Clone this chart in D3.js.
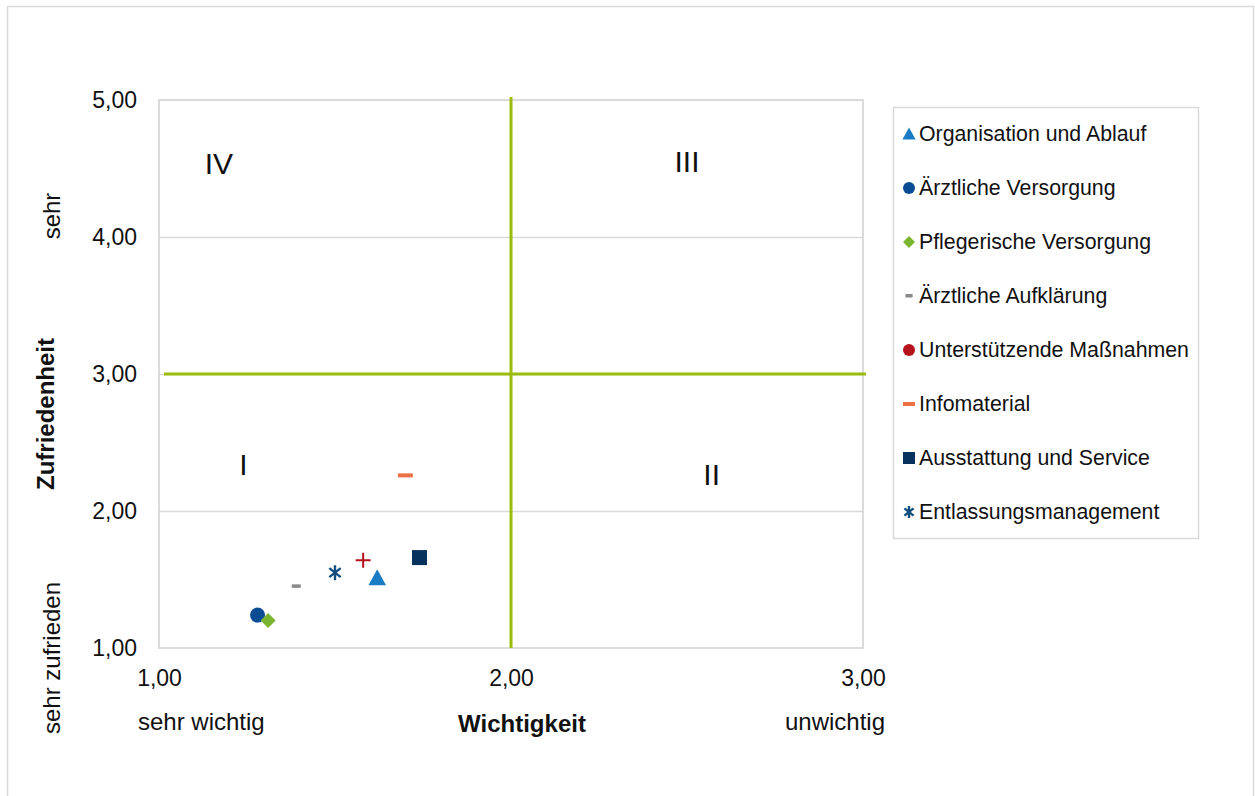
<!DOCTYPE html>
<html>
<head>
<meta charset="utf-8">
<script src="https://cdn.jsdelivr.net/npm/d3@7"></script>
<style>
  html, body { margin: 0; padding: 0; background: #fff; }
  svg { display: block; font-family: "Liberation Sans", Arial, sans-serif; }
</style>
</head>
<body>
<svg id="chart" width="1255" height="796"></svg>
<script>
// Portfolio: Wichtigkeit (x) vs. Zufriedenheit (y) per Bereich
const categories = [
  "Organisation und Ablauf",
  "Ärztliche Versorgung",
  "Pflegerische Versorgung",
  "Ärztliche Aufklärung",
  "Unterstützende Maßnahmen",
  "Infomaterial",
  "Ausstattung und Service",
  "Entlassungsmanagement"
];
const wichtigkeit   = [1.62, 1.28, 1.31, 1.39, 1.58, 1.70, 1.74, 1.50];
const zufriedenheit = [1.51, 1.24, 1.20, 1.45, 1.64, 2.26, 1.66, 1.55];
const colors = ["#1a7cc4", "#0a4c94", "#7ab52f", "#8a8a8a", "#b5121b", "#ee7045", "#07325e", "#124f80"];
const plotMarkers   = ["triangle", "circle", "diamond", "graydash", "plus", "dash", "square", "asterisk"];
const legendMarkers = ["triangle", "circle", "diamond", "graydash", "circle", "dash", "square", "asterisk"];

const xTicks = [1, 2, 3];
const yTicks = [1, 2, 3, 4, 5];
const xThreshold = 2;
const yThreshold = 3;
const quadrants = [
  { label: "IV",  x: 1.17, y: 4.52 },
  { label: "III", x: 2.50, y: 4.53 },
  { label: "I",   x: 1.24, y: 2.32 },
  { label: "II",  x: 2.57, y: 2.25 }
];

const svg = d3.select("#chart");
const fmt = v => d3.format(".2f")(v).replace(".", ",");

const x = d3.scaleLinear().domain([1, 3]).range([159, 863]);
const y = d3.scaleLinear().domain([1, 5]).range([648, 100]);

// outer frame
svg.append("rect").attr("x", 7.5).attr("y", 6.5).attr("width", 1246).attr("height", 800)
  .attr("fill", "#fff").attr("stroke", "#d9d9d9").attr("stroke-width", 1.5);

// gridlines
svg.append("g").selectAll("line").data(yTicks.slice(1, -1)).join("line")
  .attr("x1", x(1)).attr("x2", x(3))
  .attr("y1", d => Math.round(y(d)) + 0.5).attr("y2", d => Math.round(y(d)) + 0.5)
  .attr("stroke", "#d9d9d9").attr("stroke-width", 1.5);

// plot area border
svg.append("rect").attr("x", x(1)).attr("y", y(5)).attr("width", x(3) - x(1)).attr("height", y(1) - y(5))
  .attr("fill", "none").attr("stroke", "#d0d0d0").attr("stroke-width", 1.5);

// axes (tick labels only)
const xAxis = svg.append("g").attr("transform", `translate(0,${y(1)})`)
  .call(d3.axisBottom(x).tickValues(xTicks).tickFormat(fmt).tickSize(0).tickPadding(22));
xAxis.select(".domain").remove();
xAxis.selectAll("text").attr("font-size", 23).attr("fill", "#111").attr("font-family", "Liberation Sans, Arial, sans-serif");

const yAxis = svg.append("g").attr("transform", `translate(${x(1)},0)`)
  .call(d3.axisLeft(y).tickValues(yTicks).tickFormat(fmt).tickSize(0).tickPadding(22));
yAxis.select(".domain").remove();
yAxis.selectAll("text").attr("font-size", 23).attr("fill", "#111").attr("font-family", "Liberation Sans, Arial, sans-serif");

// threshold lines
svg.append("line").attr("x1", x(1) + 5).attr("x2", x(3) + 3).attr("y1", y(yThreshold)).attr("y2", y(yThreshold))
  .attr("stroke", "#9cbb0c").attr("stroke-width", 3);
svg.append("line").attr("x1", x(xThreshold)).attr("x2", x(xThreshold)).attr("y1", y(5) - 3).attr("y2", y(1))
  .attr("stroke", "#9cbb0c").attr("stroke-width", 3);

// quadrant labels
svg.append("g").selectAll("text").data(quadrants).join("text")
  .attr("x", d => x(d.x)).attr("y", d => y(d.y))
  .attr("text-anchor", "middle").attr("dominant-baseline", "middle")
  .attr("font-size", 30).attr("fill", "#111").text(d => d.label);

// axis titles
const tx = svg.append("g").attr("font-size", 24).attr("fill", "#111");
tx.append("text").attr("x", 138).attr("y", 730).text("sehr wichtig");
tx.append("text").attr("x", 522).attr("y", 732).attr("text-anchor", "middle").attr("font-weight", "bold").text("Wichtigkeit");
tx.append("text").attr("x", 885).attr("y", 730).attr("text-anchor", "end").text("unwichtig");
tx.append("text").attr("transform", "translate(60,216) rotate(-90)").attr("text-anchor", "middle").text("sehr");
tx.append("text").attr("transform", "translate(54,414) rotate(-90)").attr("text-anchor", "middle").attr("font-weight", "bold").text("Zufriedenheit");
tx.append("text").attr("transform", "translate(60,658) rotate(-90)").attr("text-anchor", "middle").text("sehr zufrieden");

// marker drawing
function drawMarker(g, type, color, s) {
  switch (type) {
    case "triangle":
      g.append("path").attr("d", `M0,${-s * 0.55}L${s * 0.55},${s * 0.45}L${-s * 0.55},${s * 0.45}Z`).attr("fill", color); break;
    case "circle":
      g.append("circle").attr("r", s / 2).attr("fill", color); break;
    case "diamond":
      g.append("path").attr("d", `M0,${-s / 2}L${s / 2},0L0,${s / 2}L${-s / 2},0Z`).attr("fill", color); break;
    case "square":
      g.append("rect").attr("x", -s / 2).attr("y", -s / 2).attr("width", s).attr("height", s).attr("fill", color); break;
    case "dash":
      g.append("rect").attr("x", -s / 2).attr("y", -2).attr("width", s).attr("height", 4).attr("fill", color); break;
    case "graydash":
      g.append("rect").attr("x", -s * 0.3).attr("y", -2).attr("width", s * 0.6).attr("height", 3.5).attr("fill", color); break;
    case "plus":
      g.append("path").attr("d", `M${-s / 2},0H${s / 2}M0,${-s / 2}V${s / 2}`).attr("stroke", color).attr("stroke-width", 2).attr("fill", "none"); break;
    case "asterisk": {
      const h = s / 2, w = s * 0.38;
      g.append("path").attr("d", `M0,${-h}V${h}M${-w},${-h * 0.6}L${w},${h * 0.6}M${-w},${h * 0.6}L${w},${-h * 0.6}`)
        .attr("stroke", color).attr("stroke-width", 2.4).attr("fill", "none"); break;
    }
  }
}

// data points
const pts = svg.append("g");
categories.forEach((c, i) => {
  const g = pts.append("g").attr("transform", `translate(${x(wichtigkeit[i])},${y(zufriedenheit[i])})`);
  const size = plotMarkers[i] === "triangle" ? 16 : 15;
  drawMarker(g, plotMarkers[i], colors[i], size);
});

// legend
const legend = svg.append("g");
legend.append("rect").attr("x", 893.5).attr("y", 107.5).attr("width", 305).attr("height", 431)
  .attr("fill", "#fff").attr("stroke", "#d9d9d9").attr("stroke-width", 1.5);
categories.forEach((c, i) => {
  const cy = 134 + i * 54;
  const g = legend.append("g").attr("transform", `translate(909,${cy})`);
  drawMarker(g, legendMarkers[i], colors[i], 12);
  legend.append("text").attr("x", 919).attr("y", cy).attr("dominant-baseline", "central")
    .attr("font-size", 21.3).attr("fill", "#111").text(c);
});
</script>
</body>
</html>
